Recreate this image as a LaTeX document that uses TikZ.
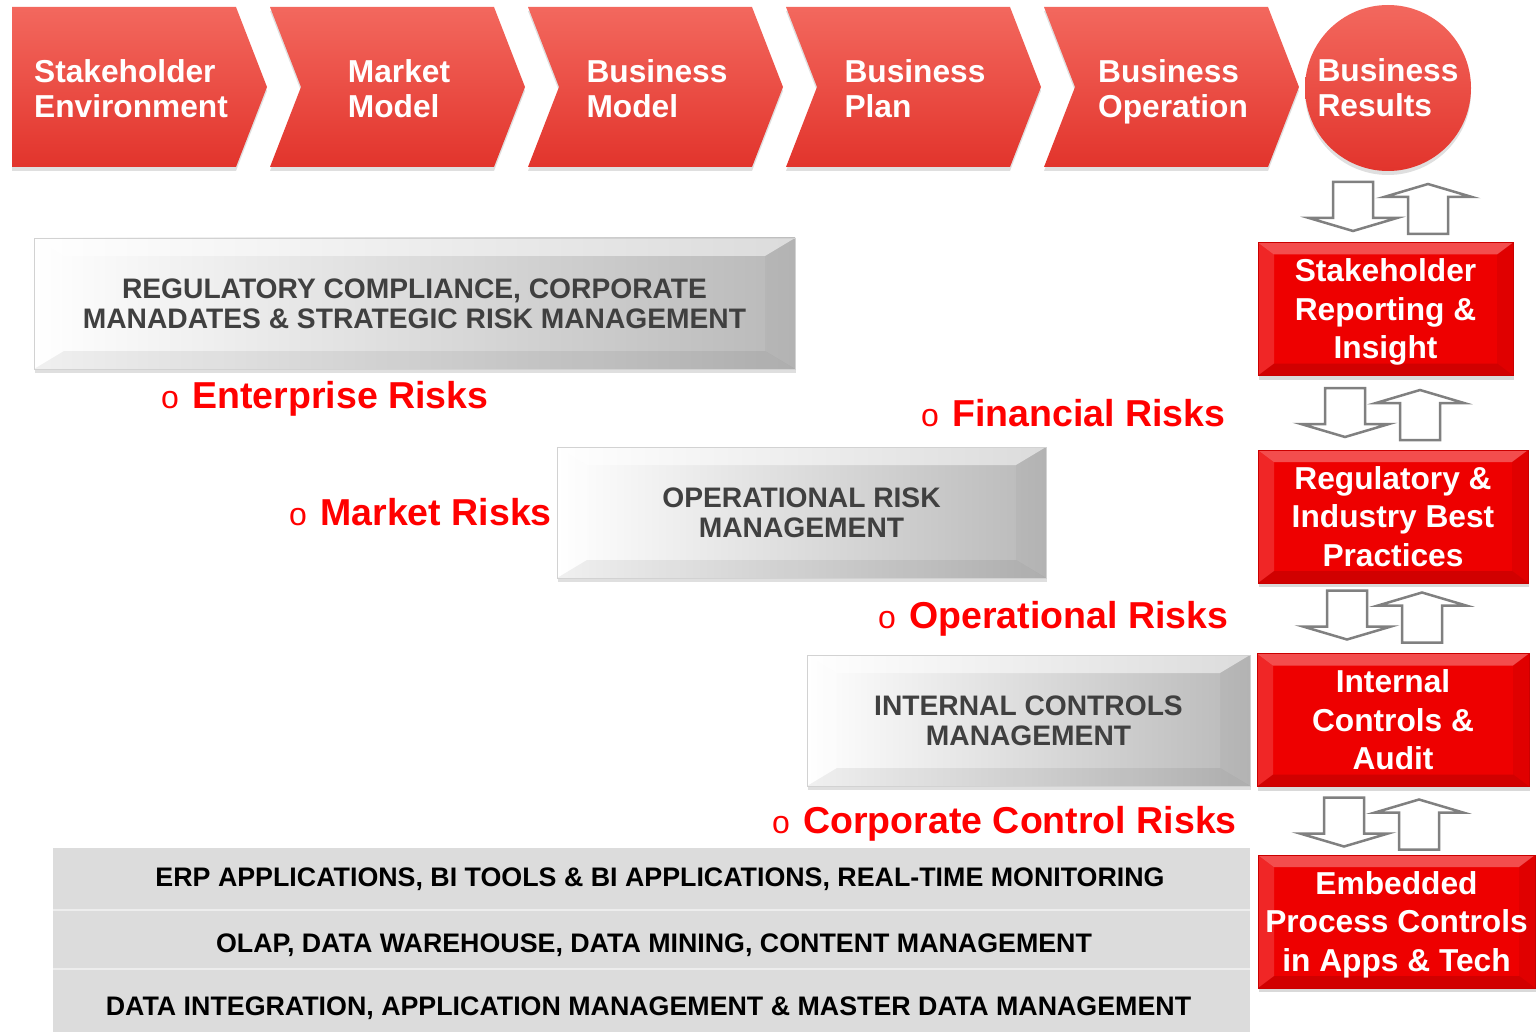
\documentclass[tikz,border=0pt]{standalone}
\usepackage{fontspec}
\setmainfont{Liberation Sans}
\usetikzlibrary{shadows}

\definecolor{chevtop}{RGB}{243,104,94}
\definecolor{chevbot}{RGB}{226,52,44}
\definecolor{boxred}{RGB}{238,0,0}
\definecolor{risktext}{RGB}{255,0,0}
\definecolor{graytext}{RGB}{64,64,64}
\definecolor{bandgray}{RGB}{220,220,220}
\definecolor{arrowgray}{RGB}{128,128,128}

\newcommand\riskdot{{\mdseries\fontsize{32}{32}\selectfont o}\hspace{3pt} }

\tikzset{
  bevel/.style n args={4}{path picture={
      \coordinate (nw) at (path picture bounding box.north west);
      \coordinate (ne) at (path picture bounding box.north east);
      \coordinate (sw) at (path picture bounding box.south west);
      \coordinate (se) at (path picture bounding box.south east);
      \fill[white,opacity=#3] (nw) -- (ne) -- ([shift={(-#1,#2)}]ne) -- ([shift={(#1,#2)}]nw) -- cycle;
      \fill[white,opacity=#3/2] (nw) -- ([shift={(#1,#2)}]nw) -- ([shift={(#1,-#2)}]sw) -- (sw) -- cycle;
      \fill[black,opacity=#4/2] (ne) -- ([shift={(-#1,#2)}]ne) -- ([shift={(-#1,-#2)}]se) -- (se) -- cycle;
      \fill[black,opacity=#4] (sw) -- ([shift={(#1,-#2)}]sw) -- ([shift={(-#1,-#2)}]se) -- (se) -- cycle;
    }},
  chev/.style={top color=chevtop, bottom color=chevbot,
    drop shadow={shadow xshift=0pt, shadow yshift=-4pt, opacity=.25}},
  chevtext/.style={text=white, font=\bfseries\fontsize{31.7}{35}\selectfont,
    align=left, text depth=0pt},
  redbox/.style={rectangle, draw=boxred!85!black, line width=.6pt, fill=boxred,
    bevel={16}{12}{.3}{.12}, minimum height=133pt, inner sep=1pt, text=white,
    font=\bfseries\fontsize{31.7}{38.5}\selectfont, align=center, text depth=0pt,
    drop shadow={shadow xshift=1pt, shadow yshift=-4pt, opacity=.3}},
  graybox/.style={rectangle, draw=gray!35, left color=white, right color=gray!55,
    bevel={30}{18}{.5}{.06}, minimum height=131pt, inner sep=2pt, text=graytext,
    font=\bfseries\fontsize{28.2}{30}\selectfont, align=center, text depth=0pt,
    drop shadow={shadow xshift=1pt, shadow yshift=-4pt, opacity=.25}},
  rowtext/.style={font=\bfseries\fontsize{26.8}{28}\selectfont, text depth=0pt},
  risk/.style={anchor=base west, inner sep=0pt, text=risktext,
    font=\bfseries\fontsize{37.5}{40}\selectfont},
  hollow/.style={draw=arrowgray, line width=2.5pt, fill=white},
  updown/.pic={
    \path[hollow] (-20,-24.5) -- (20,-24.5) -- (20,11.5) -- (44,11.5) -- (0,24.5)
      -- (-44,11.5) -- (-20,11.5) -- cycle;
    \path[hollow] (75,-22.5) -- (119,-9.5) -- (95,-9.5) -- (95,27.5) -- (55,27.5)
      -- (55,-9.5) -- (31,-9.5) -- cycle;
  }
}

\begin{document}
\begin{tikzpicture}[x=1pt, y=-1pt]
  \useasboundingbox (0,0) rectangle (1537,1032);

  % value chain along the top
  \foreach \i/\nm/\txt in {0/stake/{Stakeholder\\Environment}, 1/market/{Market\\Model},
      2/bmodel/{Business\\Model}, 3/bplan/{Business\\Plan}, 4/boper/{Business\\Operation}}{
    \pgfmathsetmacro\x{12+258*\i}
    \pgfmathsetmacro\n{\i==0 ? 0 : 31}
    \pgfmathsetmacro\c{\i==0 ? 131 : \x+129}
    \path[chev] (\x,7) -- (\x+224,7) -- (\x+255,87) -- (\x+224,167) -- (\x,167)
      -- (\x+\n,87) -- cycle;
    \node[chevtext] (\nm) at (\c,89) {\txt};
  }
  \node[chev, chevtext, circle, minimum size=166pt, inner sep=0pt] (bres) at (1388,88)
    {Business\\Results};

  % control layers on the right
  \node[redbox, minimum width=255pt] (report) at (1385.5,309) {Stakeholder\\Reporting \&\\Insight};
  \node[redbox, minimum width=270pt] (regul) at (1393,516.5) {Regulatory \&\\Industry Best\\Practices};
  \node[redbox, minimum width=272pt] (intctl) at (1393,720) {Internal\\Controls \&\\Audit};
  \node[redbox, minimum width=277pt] (embed) at (1396.5,921.5) {Embedded\\Process Controls\\in Apps \& Tech};

  \pic at (1353,206.5) {updown};
  \pic at (1345,412.5) {updown};
  \pic at (1347,615) {updown};
  \pic at (1344,822) {updown};

  % management layers
  \node[graybox, minimum width=761pt] (regcomp) at (414.5,303.5)
    {REGULATORY COMPLIANCE, CORPORATE\\MANADATES \& STRATEGIC RISK MANAGEMENT};
  \node[graybox, minimum width=489pt] (oprisk) at (801.5,512.5) {OPERATIONAL RISK\\MANAGEMENT};
  \node[graybox, minimum width=443pt] (icm) at (1028.5,720.5) {INTERNAL CONTROLS\\MANAGEMENT};

  % risk labels
  \node[risk] (entrisk) at (161,408) {\riskdot Enterprise Risks};
  \node[risk] (finrisk) at (921,426) {\riskdot Financial Risks};
  \node[risk] (mktrisk) at (289,525) {\riskdot Market Risks};
  \node[risk] (oprisklbl) at (878,628) {\riskdot Operational Risks};
  \node[risk] (ccrisk) at (772,833) {\riskdot Corporate Control Risks};

  % technology band
  \fill[bandgray] (53,848) rectangle (1250,1032);
  \draw[bandgray!50!white, line width=1.5pt] (53,910) -- (1250,910) (53,969) -- (1250,969);
  \node[rowtext] (erp) at (660,877) {ERP APPLICATIONS, BI TOOLS \& BI APPLICATIONS, REAL-TIME MONITORING};
  \node[rowtext] (olap) at (654,943) {OLAP, DATA WAREHOUSE, DATA MINING, CONTENT MANAGEMENT};
  \node[rowtext] (dint) at (648.5,1006) {DATA INTEGRATION, APPLICATION MANAGEMENT \& MASTER DATA MANAGEMENT};
\end{tikzpicture}
\end{document}
